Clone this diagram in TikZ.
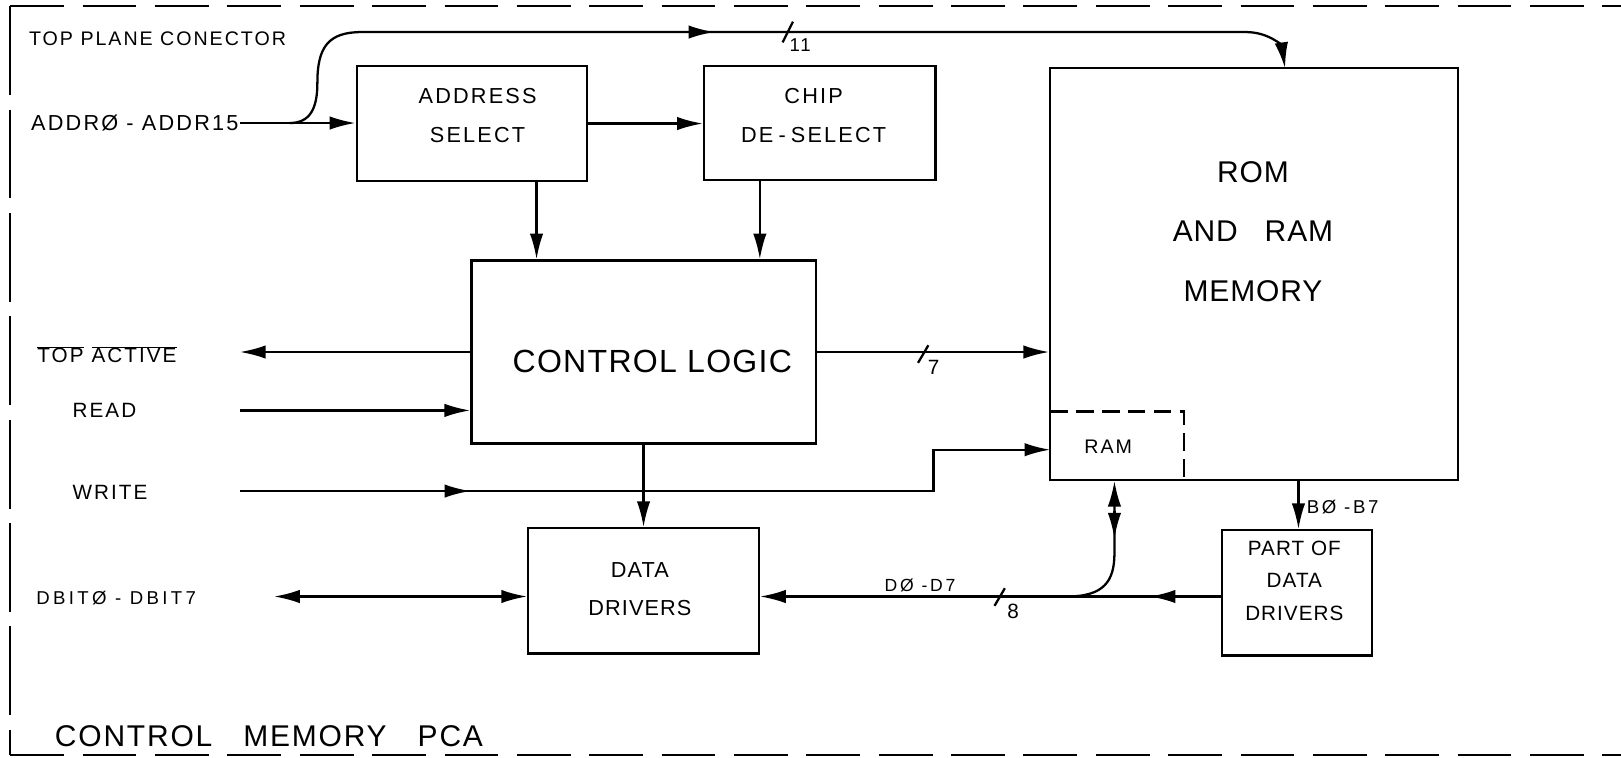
\documentclass[tikz,border=0pt]{standalone}
\usepackage{fontspec}
\setmainfont{Liberation Sans}
\usetikzlibrary{arrows.meta}
\newcommand{\fsz}[2]{\fontsize{#1}{#2}\selectfont}
\newcommand{\lsp}[1]{\addfontfeature{LetterSpace=#1}}
\begin{document}
\begin{tikzpicture}[x=1pt,y=-1pt,
  wire/.style={line width=2.2pt},
  arr/.style={wire,-{Latex[length=25pt,width=13pt]}},
  dbl/.style={wire,{Latex[length=25pt,width=13pt]}-{Latex[length=25pt,width=13pt]}},
  box/.style={draw,line width=2.2pt,inner sep=0pt},
  lbl/.style={inner sep=0pt,align=center},
  small/.style={lbl,font=\fsz{20}{24}\lsp{10}},
  boxtext/.style={lbl,font=\fsz{21}{38}\lsp{10}},
  border/.style={line width=2.2pt,dash pattern=on 52pt off 18pt},
  ramline/.style={line width=2.2pt,dash pattern=on 17pt off 8pt}]
\useasboundingbox (0,0) rectangle (1568,733);

% frame
\coordinate (fTL) at (10,6);
\coordinate (fTR) at (1568,6);
\coordinate (fBL) at (10,730);
\coordinate (fBR) at (1568,730);
\draw[border] (fTL) -- (fTR);
\draw[border] (fBL) -- (fBR);
\draw[line width=2.2pt,dash pattern=on 86pt off 14pt] (fTL) -- (fBL);

% boxes
\node[box,minimum width=223pt,minimum height=111pt] (addr) at (456.5,119.5) {};
\node[box,minimum width=224pt,minimum height=110pt] (chip) at (793,119) {};
\node[box,minimum width=394pt,minimum height=398pt] (rom) at (1213,265) {};
\node[box,minimum width=333pt,minimum height=177pt] (ctrl) at (622.5,340.5) {};
\node[box,minimum width=223pt,minimum height=121pt] (data) at (622.5,571.5) {};
\node[box,minimum width=145pt,minimum height=121pt] (part) at (1254.5,573.5) {};

% RAM section (dashed)
\coordinate (ramTop) at (1016,398);
\coordinate (ramCorner) at (1145,398);
\coordinate (ramBot) at (1145,464);
\draw[ramline] (ramTop) -- (ramCorner) -- (ramBot);

% texts
\node[lbl,anchor=base west,font=\fsz{19}{22}\lsp{10}] (topT) at (28,44) {TOP PLANE CONECTOR};
\node[lbl,anchor=base west,font=\fsz{21}{24}\lsp{10}] (addrIn) at (30,126.5) {ADDRØ - ADDR15};
\node[boxtext] (addrT) at (462,112) {ADDRESS\\SELECT};
\node[boxtext] (chipT) at (787,112) {CHIP\\DE\hspace{5pt}-\hspace{5pt}SELECT};
\node[lbl,font=\fsz{29}{57.5}\lsp{3}] (romT) at (1212,224) {ROM\\AND\hspace{26pt}RAM\\MEMORY};
\node[lbl,font=\fsz{19}{22}\lsp{10}] (ramT) at (1072,432) {RAM};
\node[lbl,font=\fsz{31}{36}\lsp{4}] (ctrlT) at (631,349.5) {CONTROL LOGIC};
\node[lbl,font=\fsz{21}{37}\lsp{5}] (dataT) at (619,570) {DATA\\DRIVERS};
\node[lbl,font=\fsz{20}{31.5}\lsp{5}] (partT) at (1252,561.5) {PART OF\\DATA\\DRIVERS};
\node[small,anchor=base west] (taT) at (36,351) {$\overline{\hbox{TOP}}$ $\overline{\hbox{ACTIVE}}$};
\node[small,anchor=base west] (readT) at (70,404) {READ};
\node[small,anchor=base west] (writeT) at (70,483) {WRITE};
\node[lbl,anchor=base west,font=\fsz{18}{22}\lsp{18}] (dbitT) at (35,584.5) {DBITØ - DBIT7};
\node[lbl,anchor=base west,font=\fsz{29}{34}\lsp{6}] (titleT) at (53,722.5) {CONTROL\hspace{30pt}MEMORY\hspace{30pt}PCA};
\node[lbl,anchor=base west,font=\fsz{18}{22}\lsp{14}] (b07T) at (1264,496.5) {BØ -B7};
\node[lbl,font=\fsz{17}{20}\lsp{16}] (d07T) at (890,566) {DØ -D7};
\node[lbl,font=\fsz{18}{22}\lsp{10}] (n11) at (774,44) {11};
\node[lbl,font=\fsz{20}{24}] (n7) at (903,355) {7};
\node[lbl,font=\fsz{20}{24}] (n8) at (980,591) {8};

% coordinates for free ends / taps
\coordinate (addrSrc) at (232,119);
\coordinate (br) at (280,119);
\coordinate (romIn) at (1243,66);
\coordinate (a1) at (519,175);
\coordinate (c1) at (735,174);
\coordinate (taDst) at (232,342);
\coordinate (rdSrc) at (232,397);
\coordinate (wrSrc) at (232,475);
\coordinate (wrJog) at (903,475);
\coordinate (ramIn) at (1016,435);
\coordinate (dbDst) at (265,577);
\coordinate (busY) at (0,577);
\coordinate (jn) at (1032,577);
\coordinate (rl) at (1078,535);
\coordinate (bx) at (1256,0);

% connectors
\draw[arr] (addrSrc) -- (addrSrc -| addr.west);
\draw[arr] (br) .. controls (300,119) and (307,105) .. (307,80)
  .. controls (307,45) and (318,31) .. (350,31) -- (1205,31)
  .. controls (1228,31) and (1240,45) .. (romIn);
\draw[arr] (664,31) -- (691,31);
\draw[wire] (757,41) -- (767,21);
\draw[arr] (addr.east) -- (addr.east -| chip.west);
\draw[arr] (a1) -- (a1 |- ctrl.north);
\draw[arr] (c1) -- (c1 |- ctrl.north);
\draw[arr] (ctrl.west) -- (ctrl.west -| taDst);
\draw[arr] (rdSrc) -- (rdSrc -| ctrl.west);
\draw[arr] (wrSrc) -- (wrJog) |- (ramIn);
\draw[arr] (428,475) -- (455,475);
\draw[arr] (ctrl.east) -- (ctrl.east -| rom.west);
\draw[wire] (888,351) -- (898,334);
\draw[arr] (ctrl.south) -- (data.north);
\draw[dbl] (dbDst) -- (dbDst -| data.west);
\draw[arr] (part.west |- busY) -- (data.east |- busY);
\draw[arr] (1139,577) -- (1112,577);
\draw[wire] (962,586) -- (972,569);
\draw[arr] (jn) .. controls (1068,577) and (1078,562) .. (rl) -- (rl |- rom.south);
\draw[arr] (1078,494) -- (1078,521);
\draw[arr] (bx |- rom.south) -- (bx |- part.north);
\end{tikzpicture}
\end{document}
